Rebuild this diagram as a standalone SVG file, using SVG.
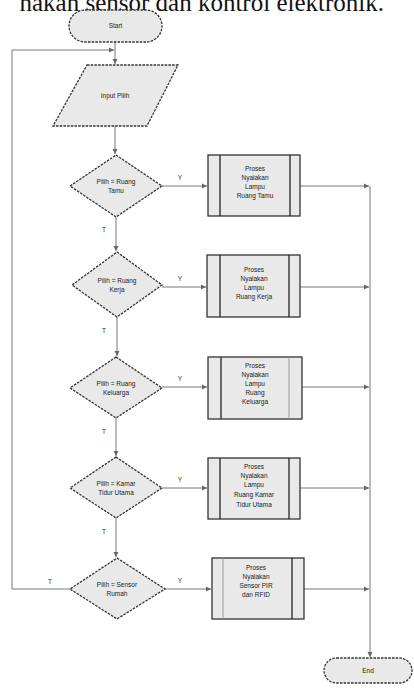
<svg xmlns="http://www.w3.org/2000/svg" width="414" height="688" viewBox="0 0 414 688">
<defs>
<marker id="ah" markerWidth="6" markerHeight="6" refX="5" refY="3" orient="auto" markerUnits="userSpaceOnUse">
<path d="M0,0.5 L5,3 L0,5.5 Z" fill="#666"/>
</marker>
<style>
.sh{fill:#e9e9e9;stroke:#333;stroke-width:1.3;stroke-dasharray:2.5 1.2}
.pr{fill:#e9e9e9;stroke:#333;stroke-width:1.3}
.in{stroke:#222;stroke-width:1.3}
.ln{fill:none;stroke:#777;stroke-width:1;marker-end:url(#ah)}
.lp{fill:none;stroke:#777;stroke-width:1}
.t{font-family:"Liberation Sans",Arial,sans-serif;font-size:6.5px;fill:#222;text-anchor:middle}
.lb{font-family:"Liberation Sans",Arial,sans-serif;font-size:6.5px;fill:#333;text-anchor:middle}
</style>
</defs>
<rect width="414" height="688" fill="#fff"/>
<text x="384" y="11" font-family="Liberation Serif,'Times New Roman',serif" font-size="25" text-anchor="end" fill="#111">nakan sensor dan kontrol elektronik.</text>

<g id="connectors">
<path class="lp" d="M115,42 V50"/>
<path class="ln" d="M12,50 H114"/>
<path class="ln" d="M115,50 V64"/>
<path class="ln" d="M115,126 V154"/>
<path class="ln" d="M116,217 V251"/>
<path class="ln" d="M117,317 V356"/>
<path class="ln" d="M116,418 V456"/>
<path class="ln" d="M116,518 V557"/>
<path class="lp" d="M70,589 H12 V50"/>
<path class="ln" d="M162,186 H207"/>
<path class="ln" d="M162,287 H206"/>
<path class="ln" d="M162,387 H207"/>
<path class="ln" d="M162,488 H207"/>
<path class="ln" d="M165,589 H211"/>
<path class="ln" d="M300,186 H369"/>
<path class="ln" d="M300,287 H369"/>
<path class="ln" d="M302,387 H369"/>
<path class="ln" d="M300,488 H369"/>
<path class="ln" d="M304,589 H369"/>
<path class="ln" d="M370,186 V657"/>
<text class="lb" x="180" y="180">Y</text>
<text class="lb" x="180" y="281">Y</text>
<text class="lb" x="180" y="381">Y</text>
<text class="lb" x="180" y="482">Y</text>
<text class="lb" x="180" y="583">Y</text>
<text class="lb" x="104" y="232">T</text>
<text class="lb" x="104" y="333">T</text>
<text class="lb" x="104" y="434">T</text>
<text class="lb" x="104" y="534">T</text>
<text class="lb" x="50" y="584">T</text>
</g>

<g id="start">
<rect class="sh" x="69" y="10" width="93" height="32" rx="16"/>
<text class="t" x="115.5" y="28">Start</text>
</g>

<g id="input">
<polygon class="sh" points="87,65 178,65 147,126 53,126"/>
<text class="t" x="115" y="98">Input Pilih</text>
</g>

<g id="d1">
<polygon class="sh" points="116,155 162,186 116,217 70,186"/>
<text class="t" x="116" y="184">Pilih = Ruang</text>
<text class="t" x="116" y="193">Tamu</text>
</g>
<g id="p1">
<rect class="pr" x="208" y="155" width="92" height="61"/>
<line class="in" x1="220" y1="155" x2="220" y2="216"/>
<line class="in" x1="290" y1="155" x2="290" y2="216"/>
<text class="t" x="255" y="171">Proses</text>
<text class="t" x="255" y="180">Nyalakan</text>
<text class="t" x="255" y="189">Lampu</text>
<text class="t" x="255" y="198">Ruang Tamu</text>
</g>

<g id="d2">
<polygon class="sh" points="117,252 162,285 117,317 72,285"/>
<text class="t" x="117" y="283">Pilih = Ruang</text>
<text class="t" x="117" y="292">Kerja</text>
</g>
<g id="p2">
<rect class="pr" x="207" y="255" width="93" height="62"/>
<line class="in" x1="220" y1="255" x2="220" y2="317"/>
<line class="in" x1="289" y1="255" x2="289" y2="317"/>
<text class="t" x="254" y="272">Proses</text>
<text class="t" x="254" y="281">Nyalakan</text>
<text class="t" x="254" y="290">Lampu</text>
<text class="t" x="254" y="299">Ruang Kerja</text>
</g>

<g id="d3">
<polygon class="sh" points="116,357 162,388 116,418 70,388"/>
<text class="t" x="116" y="386">Pilih = Ruang</text>
<text class="t" x="116" y="395">Keluarga</text>
</g>
<g id="p3">
<rect class="pr" x="208" y="357" width="94" height="62"/>
<line class="in" x1="221" y1="357" x2="221" y2="419"/>
<line x1="289" y1="357" x2="289" y2="419" stroke="#999" stroke-width="1"/>
<text class="t" x="255" y="368">Proses</text>
<text class="t" x="255" y="377">Nyalakan</text>
<text class="t" x="255" y="386">Lampu</text>
<text class="t" x="255" y="395">Ruang</text>
<text class="t" x="255" y="404">Keluarga</text>
</g>

<g id="d4">
<polygon class="sh" points="116,457 162,488 116,518 70,488"/>
<text class="t" x="116" y="486">Pilih = Kamar</text>
<text class="t" x="116" y="495">Tidur Utama</text>
</g>
<g id="p4">
<rect class="pr" x="208" y="458" width="92" height="61"/>
<line class="in" x1="220" y1="458" x2="220" y2="519"/>
<line class="in" x1="289" y1="458" x2="289" y2="519"/>
<text class="t" x="254" y="469">Proses</text>
<text class="t" x="254" y="478">Nyalakan</text>
<text class="t" x="254" y="487">Lampu</text>
<text class="t" x="254" y="497">Ruang Kamar</text>
<text class="t" x="254" y="507">Tidur Utama</text>
</g>

<g id="d5">
<polygon class="sh" points="117,558 165,589 117,619 70,589"/>
<text class="t" x="117" y="587">Pilih = Sensor</text>
<text class="t" x="117" y="596">Rumah</text>
</g>
<g id="p5">
<rect class="pr" x="212" y="558" width="92" height="61"/>
<line x1="223" y1="558" x2="223" y2="619" stroke="#999" stroke-width="1"/>
<line class="in" x1="292" y1="558" x2="292" y2="619"/>
<text class="t" x="256" y="570">Proses</text>
<text class="t" x="256" y="579">Nyalakan</text>
<text class="t" x="256" y="588">Sensor PIR</text>
<text class="t" x="256" y="597">dan RFID</text>
</g>

<g id="end">
<rect class="sh" x="324" y="658" width="88" height="25" rx="12.5"/>
<text class="t" x="368" y="673">End</text>
</g>
</svg>
